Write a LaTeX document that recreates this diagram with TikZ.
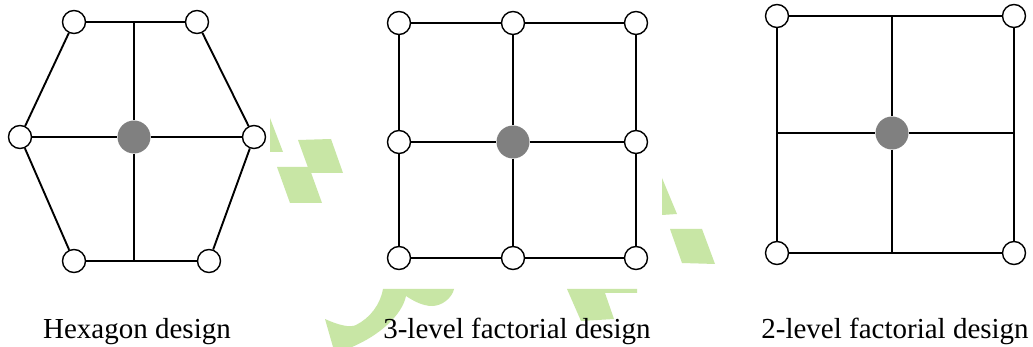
\documentclass[tikz,border=0pt]{standalone}
\usepackage{fontspec}
\setmainfont{Liberation Serif}
\definecolor{leaf}{RGB}{200,230,165}
\definecolor{dotgray}{RGB}{128,128,128}
\tikzset{
  runpt/.style={circle, draw=black, fill=white, line width=1.4pt, minimum size=23pt, inner sep=0pt},
  centrept/.style={circle, fill=dotgray, minimum size=33pt, inner sep=0pt},
  gridline/.style={line width=1.9pt, line cap=butt},
  lbl/.style={anchor=base, inner sep=0pt, font=\fontsize{29}{34}\selectfont},
  leafshape/.style={fill=leaf, draw=none}
}
\begin{document}
\begin{tikzpicture}[x=1pt, y=-1pt]
  \fill[white] (0,0) rectangle (1033,347);
  \useasboundingbox (0,0) rectangle (1033,347);

  % background logo fragments
  \path[leafshape] (270,118) -- (283,152) -- (270,152) -- cycle;
  \path[leafshape] (298,140) -- (331,139) -- (343,173) -- (310,173) -- cycle;
  \path[leafshape] (277,167) -- (309,167) -- (322,203) -- (290,203) -- cycle;
  \path[leafshape] (662,178) -- (677,214) -- (662,215) -- cycle;
  \path[leafshape] (670,229) -- (702,229) -- (715,264) -- (682,263) -- cycle;
  \path[leafshape] (325,319) .. controls (338,325) and (350,328) .. (356,325)
      .. controls (370,318) and (380,305) .. (383,289) -- (454,289)
      .. controls (452,298) and (442,306) .. (432,306)
      .. controls (422,306) and (412,300) .. (406,296)
      .. controls (402,315) and (380,335) .. (352,347) -- (333,347) -- cycle;
  \path[leafshape] (567,289) -- (637,289) -- (637,293) -- (605,293) -- (614,319) -- (581,321) -- cycle;

  % ---- hexagon design ----
  \node[centrept] (hc) at (134,137) {};
  \node[runpt] (htl) at (74,22) {};
  \node[runpt] (htr) at (197,22) {};
  \node[runpt] (hl)  at (20,137) {};
  \node[runpt] (hr)  at (254,137) {};
  \node[runpt] (hbl) at (74,261) {};
  \node[runpt] (hbr) at (209,261) {};
  \coordinate (ht) at (134,22);
  \coordinate (hb) at (134,261);
  \draw[gridline] (htl) -- (htr) -- (hr) -- (hbr) -- (hbl) -- (hl) -- (htl);
  \draw[gridline] (ht) -- (hc) -- (hb);
  \draw[gridline] (hl) -- (hc) -- (hr);

  % ---- 3-level factorial design ----
  \node[centrept] (fc) at (513,142) {};
  \foreach \c/\x in {1/399,2/513,3/636}{
    \foreach \r/\y in {1/23,2/142,3/258}{
      \ifnum\c\r=22\else
        \node[runpt] (f\c\r) at (\x,\y) {};
      \fi
    }
  }
  \draw[gridline] (f11) -- (f21) -- (f31) -- (f32) -- (f33) -- (f23) -- (f13) -- (f12) -- (f11);
  \draw[gridline] (f21) -- (fc) -- (f23);
  \draw[gridline] (f12) -- (fc) -- (f32);

  % ---- 2-level factorial design ----
  \node[centrept] (tc) at (892,133) {};
  \node[runpt] (ttl) at (777,16) {};
  \node[runpt] (ttr) at (1014,16) {};
  \node[runpt] (tbl) at (777,253) {};
  \node[runpt] (tbr) at (1014,253) {};
  \coordinate (tt) at (892,16);
  \coordinate (tb) at (892,253);
  \coordinate (tl) at (777,133);
  \coordinate (tr) at (1014,133);
  \draw[gridline] (ttl) -- (ttr) -- (tbr) -- (tbl) -- (ttl);
  \draw[gridline] (tt) -- (tc) -- (tb);
  \draw[gridline] (tl) -- (tc) -- (tr);

  % captions
  \node[lbl] (cap1) at (137,338) {Hexagon design};
  \node[lbl] (cap2) at (517,338) {3-level factorial design};
  \node[lbl] (cap3) at (895,338) {2-level factorial design};
\end{tikzpicture}
\end{document}
